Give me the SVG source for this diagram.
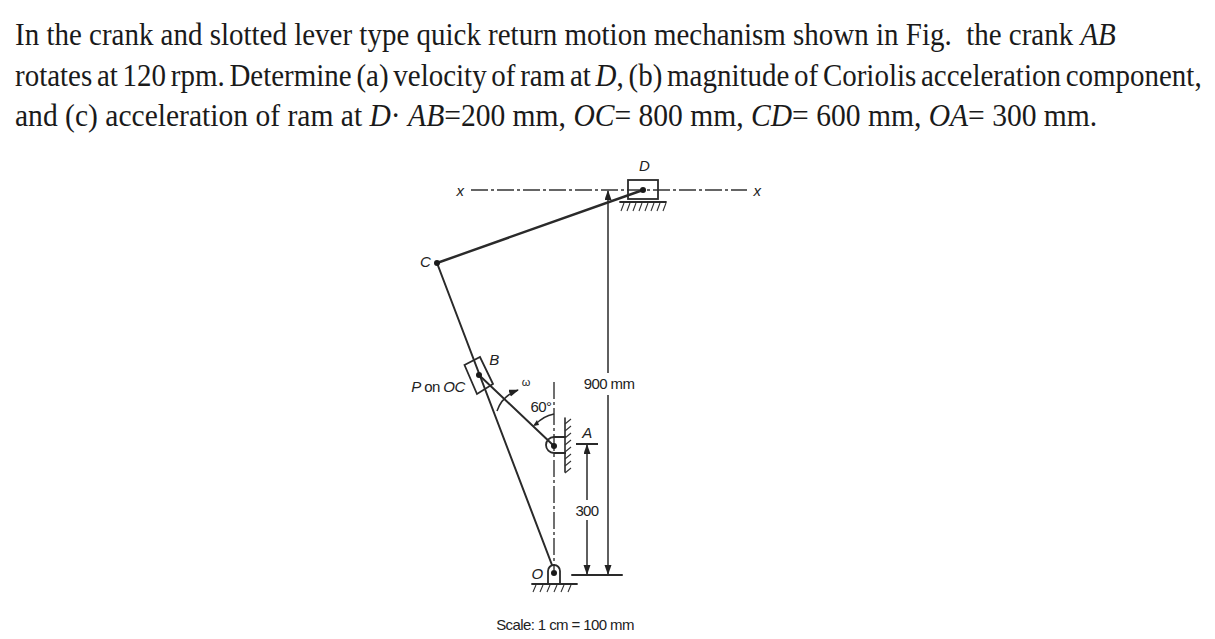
<svg xmlns="http://www.w3.org/2000/svg" width="1215" height="639" viewBox="0 0 1215 639">
<style>
.t{font-family:"Liberation Serif",serif;font-size:31px;fill:#1a1a1a}
.l{font-family:"Liberation Sans",sans-serif;font-size:15px;letter-spacing:-.6px;fill:#222}
.i{font-style:italic}
.k{fill:none;stroke:#2a2a2a;stroke-width:2.4;stroke-linecap:round}
.n{fill:none;stroke:#2a2a2a;stroke-width:1.5}
.cl{fill:none;stroke:#333;stroke-width:1.4;stroke-dasharray:17 3 3 3}
.h{fill:none;stroke:#333;stroke-width:1.1}
.p{fill:#1a1a1a}
</style>
<defs>
<marker id="ah" markerWidth="10" markerHeight="10" refX="9" refY="3.5" orient="auto" markerUnits="userSpaceOnUse"><path d="M0 0L10 3.5L0 7Z" fill="#222"/></marker>
</defs>
<rect width="1215" height="639" fill="#fff"/>
<g id="question">
<text class="t" transform="translate(15 45) scale(.935 1)" xml:space="preserve">In the crank and slotted lever type quick return motion mechanism shown in Fig.  the crank <tspan class="i">AB</tspan></text>
<text class="t" transform="translate(15 86) scale(.935 1)" style="word-spacing:-2.7px">rotates at 120 rpm. Determine (a) velocity of ram at <tspan class="i">D</tspan>, (b) magnitude of Coriolis acceleration component,</text>
<text class="t" transform="translate(15 126) scale(.954 1)">and (c) acceleration of ram at <tspan class="i">D</tspan>· <tspan class="i">AB</tspan>=200 mm, <tspan class="i">OC</tspan>= 800 mm, <tspan class="i">CD</tspan>= 600 mm, <tspan class="i">OA</tspan>= 300 mm.</text>
</g>
<g id="connectors">
<path class="cl" d="M471 190H747"/>
<path class="cl" d="M554 382V570"/>
<path class="k" d="M437 263L643 190"/>
<path class="k" style="stroke-width:2" d="M437 263L552 565"/>
<path class="k" style="stroke-width:2" d="M554 446L479 375"/>
<path class="n" d="M608 373V191" marker-end="url(#ah)"/>
<path class="n" d="M608 395V574" marker-end="url(#ah)"/>
<path class="n" d="M587 500V445" marker-end="url(#ah)"/>
<path class="n" d="M587 520V574" marker-end="url(#ah)"/>
<path class="k" style="stroke-width:2" d="M572 575H622"/>
<path class="n" style="stroke-width:2" d="M576 444H598"/>
<path class="n" d="M497 411Q502 396 518 390" marker-end="url(#ah)"/>
<path class="n" d="M535 425Q543 416 554 414"/>
<path d="M533 426L539 425L537 420Z" fill="#222"/>
</g>
<g id="slider-D">
<rect x="628" y="180" width="30" height="19" fill="none" stroke="#2a2a2a" stroke-width="1.8"/>
<circle class="p" cx="643" cy="190" r="3"/>
<path class="k" style="stroke-width:1.8" d="M620 202H666"/>
<path class="h" d="M624 203l-3 8M630 203l-3 8M636 203l-3 8M642 203l-3 8M648 203l-3 8M654 203l-3 8M660 203l-3 8M666 203l-3 8"/>
<text class="l i" x="644" y="171" text-anchor="middle">D</text>
<text class="l i" x="460" y="196" text-anchor="middle">x</text>
<text class="l i" x="757" y="196" text-anchor="middle">x</text>
</g>
<g id="joint-C">
<circle class="p" cx="437" cy="263" r="3"/>
<text class="l i" x="425" y="267" text-anchor="middle">C</text>
</g>
<g id="slider-B">
<path d="M464.500 365L480 357L493 384L477 394Z" fill="none" stroke="#2a2a2a" stroke-width="1.8"/>
<circle class="p" cx="479" cy="375" r="3"/>
<text class="l i" x="494" y="365" text-anchor="middle">B</text>
<text class="l" x="438" y="392" text-anchor="middle"><tspan class="i">P</tspan> on <tspan class="i">OC</tspan></text>
</g>
<g id="joint-A">
<path class="n" style="stroke-width:1.8" d="M566 437H554A8 8 0 0 0 554 453H566"/>
<circle class="p" cx="554" cy="446" r="3"/>
<path class="k" style="stroke-width:1.6" d="M565 418V472"/>
<path class="h" d="M565 424l6-5M565 431l6-5M565 438l6-5M565 445l6-5M565 452l6-5M565 459l6-5M565 466l6-5M565 473l6-5"/>
<text class="l i" x="587" y="438" text-anchor="middle">A</text>
</g>
<g id="joint-O">
<path class="n" style="stroke-width:1.8" d="M548 584V571A6 6 0 0 1 560 571V584"/>
<circle class="p" cx="554" cy="573" r="3"/>
<path class="k" style="stroke-width:1.8" d="M532 584H577"/>
<path class="h" d="M536 585l-3 7M543 585l-3 7M550 585l-3 7M557 585l-3 7M564 585l-3 7M571 585l-3 7"/>
<text class="l i" x="537" y="579" text-anchor="middle">O</text>
</g>
<g id="labels">
<text class="l" x="609" y="389" text-anchor="middle">900 mm</text>
<text class="l" x="587" y="516" text-anchor="middle">300</text>
<text class="l" x="526" y="386" text-anchor="middle" style="font-size:11px;letter-spacing:0">ω</text>
<text class="l" x="541" y="412" text-anchor="middle">60°</text>
<text class="l" x="565" y="630" text-anchor="middle">Scale: 1 cm = 100 mm</text>
</g>
</svg>
